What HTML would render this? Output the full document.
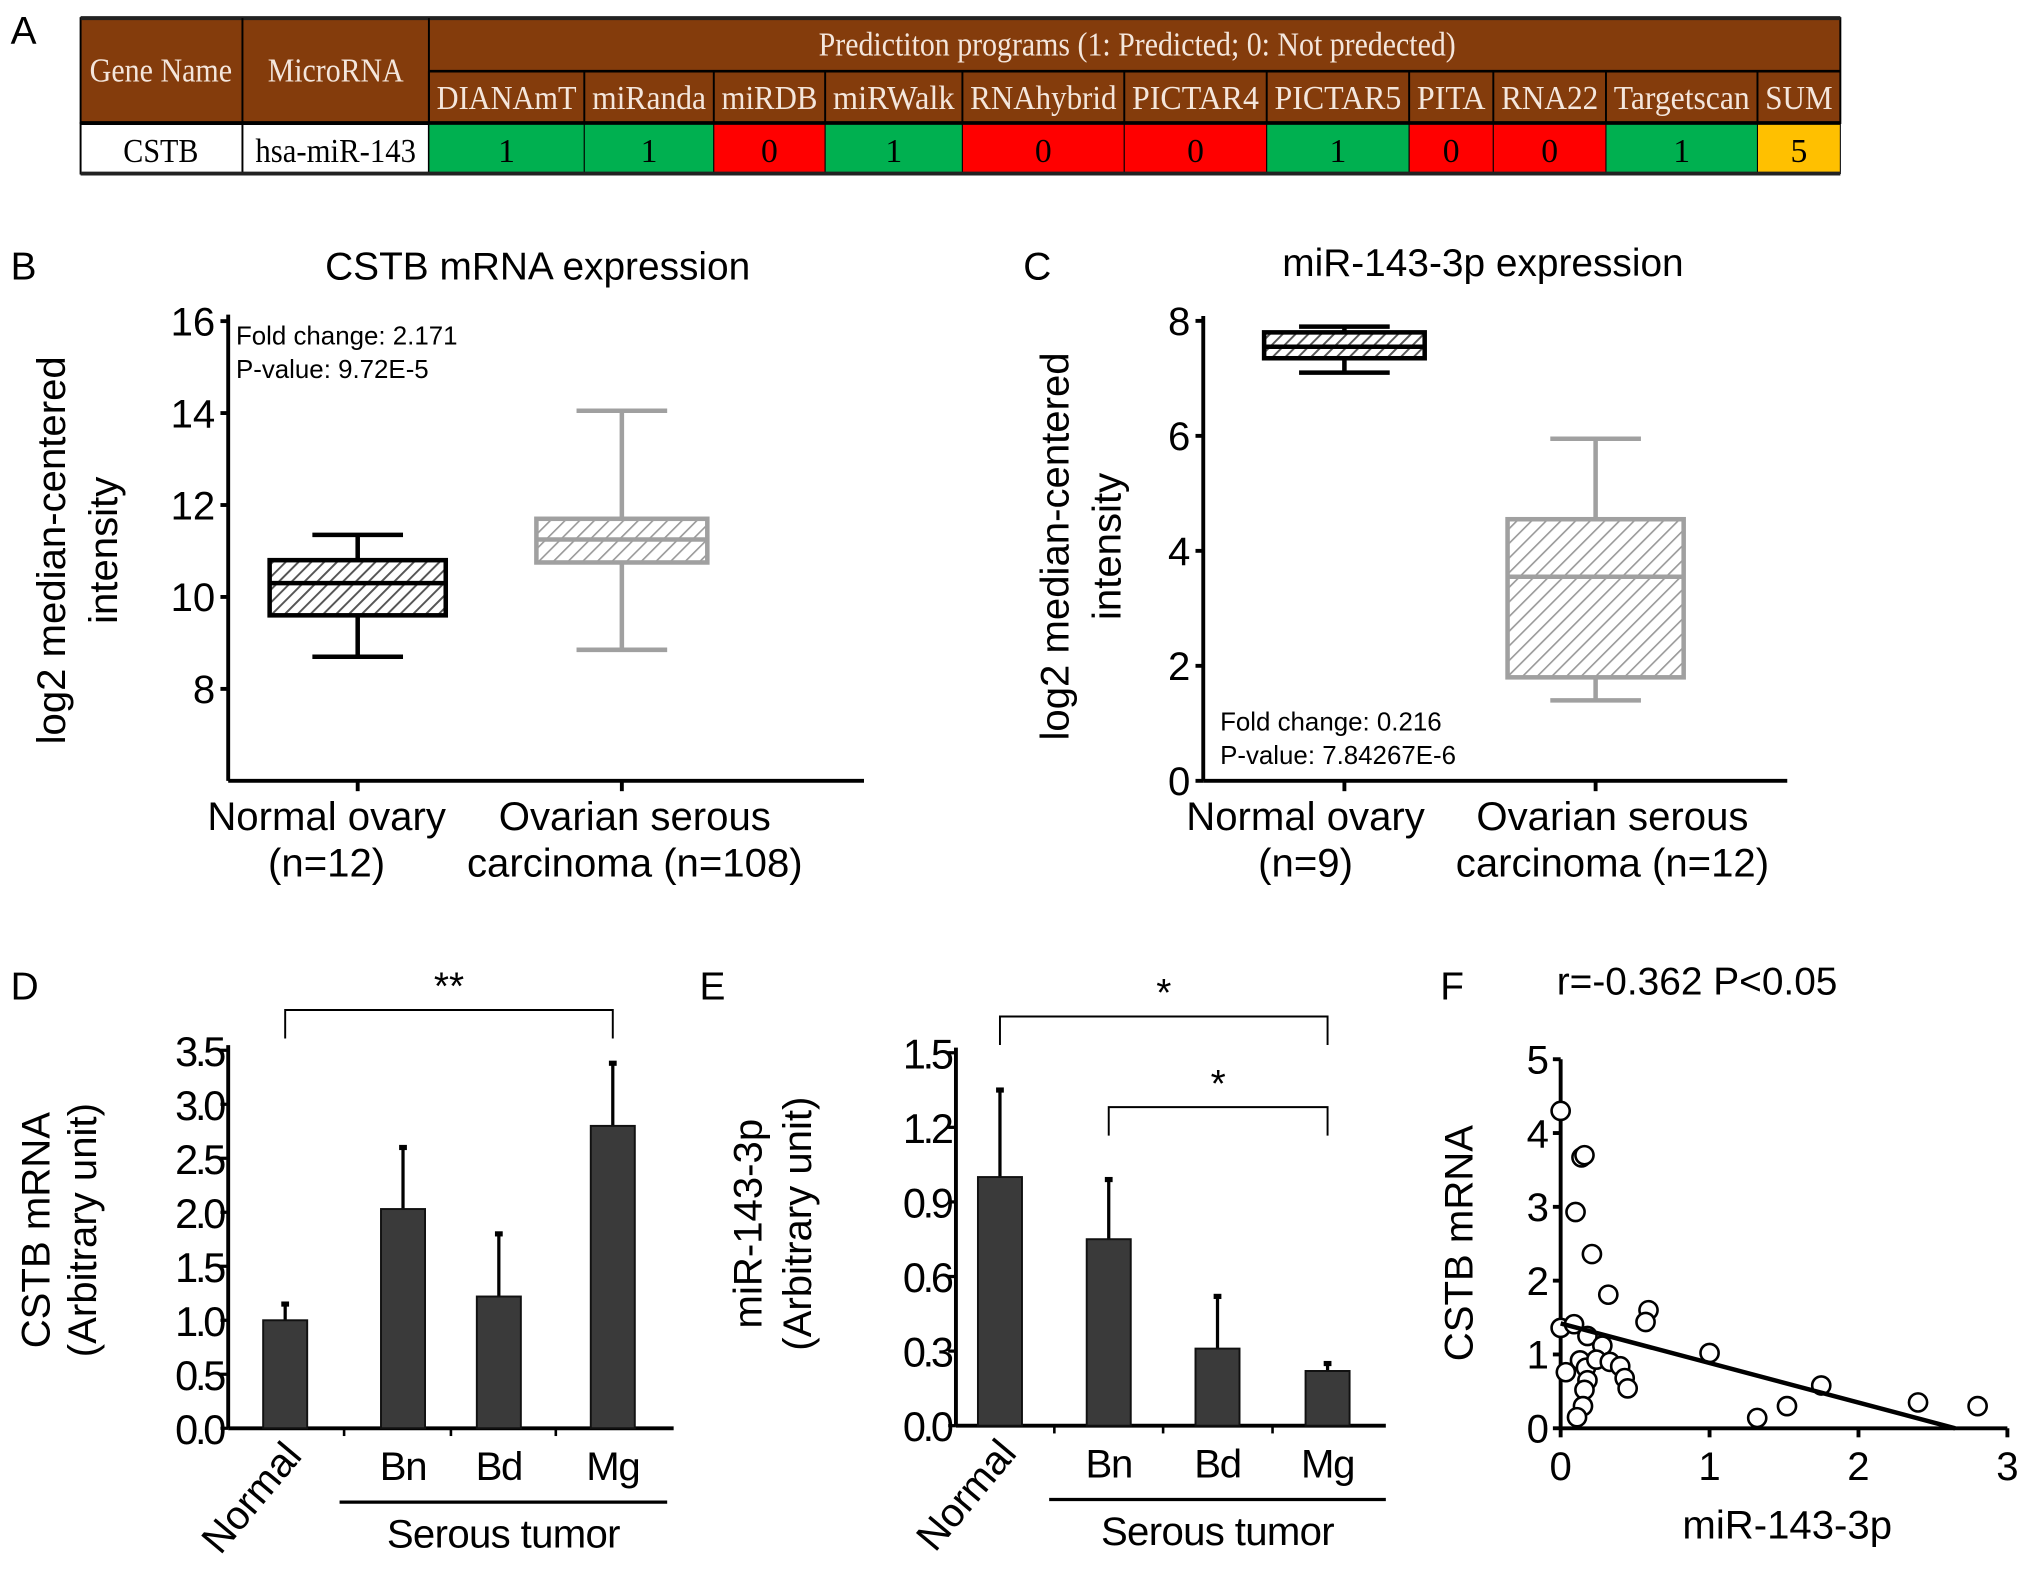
<!DOCTYPE html>
<html><head><meta charset="utf-8"><style>
html,body{margin:0;padding:0;background:#fff;}
svg{display:block;font-family:"Liberation Sans",Arial,sans-serif;}
.serif{font-family:"Liberation Serif","Times New Roman",serif;}
</style></head><body>
<svg id="fig" width="2031" height="1572" viewBox="0 0 1568 1214" xmlns="http://www.w3.org/2000/svg">
<defs>
<pattern id="hatchK" patternUnits="userSpaceOnUse" width="7" height="7" patternTransform="rotate(45)"><rect width="7" height="7" fill="#fff"/><line x1="0" y1="0" x2="0" y2="7" stroke="#555" stroke-width="3"/></pattern>
<pattern id="hatchG" patternUnits="userSpaceOnUse" width="8" height="8" patternTransform="rotate(45)"><rect width="8" height="8" fill="#fff"/><line x1="0" y1="0" x2="0" y2="8" stroke="#999" stroke-width="2.5"/></pattern>
</defs>
<g id="A"></g>
<g id="B"></g>
<g id="C"></g>
<g id="D"></g>
<g id="E"></g>
<g id="F"></g>
</svg>
<script>
// ---- data ----
const tablePrograms = ["DIANAmT","miRanda","miRDB","miRWalk","RNAhybrid","PICTAR4","PICTAR5","PITA","RNA22","Targetscan","SUM"];
const tableValues = [1,1,0,1,0,0,1,0,0,1,5];
const bGroups = ["Normal ovary","Ovarian serous"];
const bWhiskerLow = [8.7, 8.85];
const bQ1 = [9.6, 10.75];
const bMedian = [10.3, 11.25];
const bQ3 = [10.8, 11.7];
const bWhiskerHigh = [11.35, 14.05];
const bTicks = [8,10,12,14,16];
const cWhiskerLow = [7.1, 1.4];
const cQ1 = [7.35, 1.8];
const cMedian = [7.55, 3.55];
const cQ3 = [7.8, 4.55];
const cWhiskerHigh = [7.9, 5.95];
const cTicks = [0,2,4,6,8];
const dCategories = ["Normal","Bn","Bd","Mg"];
const dValues = [1.0, 2.03, 1.22, 2.8];
const dErrors = [0.15, 0.57, 0.58, 0.58];
const dTicks = ["0.0","0.5","1.0","1.5","2.0","2.5","3.0","3.5"];
const eValues = [1.0, 0.75, 0.31, 0.22];
const eErrors = [0.35, 0.24, 0.21, 0.03];
const eTicks = ["0.0","0.3","0.6","0.9","1.2","1.5"];
const fX = [0,0.14,0.16,0.1,0.21,0.32,0.59,0.57,0,0.09,0.18,0.28,0.035,0.13,0.17,0.24,0.33,0.4,0.43,0.45,0.18,0.16,0.15,0.11,1.0,1.75,1.32,1.52,2.4,2.8];
const fY = [4.3,3.67,3.7,2.93,2.36,1.81,1.6,1.44,1.36,1.41,1.25,1.12,0.76,0.92,0.82,0.93,0.9,0.84,0.68,0.54,0.65,0.52,0.3,0.15,1.02,0.58,0.14,0.3,0.35,0.3];
const fFit = [1.42, -0.536];
const fTicksX = [0,1,2,3];
const fTicksY = [0,1,2,3,4,5];

const NS="http://www.w3.org/2000/svg";
function el(parent,tag,attrs,text){const e=document.createElementNS(NS,tag);for(const k in attrs)e.setAttribute(k,attrs[k]);if(text!==undefined)e.textContent=text;parent.appendChild(e);return e;}

// ---- Panel A ----
const A=document.getElementById('A');
let t=el(A,'text',{x:8,y:34,'font-size':30},'A');


const brown='#843c0c';
const colX=[331,451,551,637,743,868,978,1088,1153,1240,1357,1421];
el(A,'rect',{x:62,y:14,width:1359,height:81,fill:brown,stroke:'#000','stroke-width':1.5});
el(A,'line',{x1:62,y1:14,x2:1421,y2:14,stroke:'#222','stroke-width':3});
el(A,'line',{x1:331,y1:55,x2:1421,y2:55,stroke:'#000','stroke-width':2});
el(A,'rect',{x:62,y:95,width:269,height:39,fill:'#fff',stroke:'#000','stroke-width':1.5});
el(A,'line',{x1:187,y1:14,x2:187,y2:134,stroke:'#000','stroke-width':1.5});
el(A,'line',{x1:331,y1:14,x2:331,y2:134,stroke:'#000','stroke-width':1.5});
el(A,'line',{x1:62,y1:95,x2:1421,y2:95,stroke:'#000','stroke-width':3});
let h=el(A,'text',{x:124,y:63,'font-size':26,fill:'#f4e6dc','text-anchor':'middle',class:'serif',textLength:110,lengthAdjust:'spacingAndGlyphs'},'Gene Name');

h=el(A,'text',{x:259,y:63,'font-size':26,fill:'#f4e6dc','text-anchor':'middle',class:'serif',textLength:105,lengthAdjust:'spacingAndGlyphs'},'MicroRNA');

h=el(A,'text',{x:878,y:43,'font-size':26,fill:'#f4e6dc','text-anchor':'middle',class:'serif',textLength:492,lengthAdjust:'spacingAndGlyphs'},'Predictiton programs (1: Predicted; 0: Not predected)');

h=el(A,'text',{x:124,y:125,'font-size':26,'text-anchor':'middle',class:'serif',textLength:58,lengthAdjust:'spacingAndGlyphs'},'CSTB');

h=el(A,'text',{x:259,y:125,'font-size':26,'text-anchor':'middle',class:'serif',textLength:124,lengthAdjust:'spacingAndGlyphs'},'hsa-miR-143');

tablePrograms.forEach((p,i)=>{
  const x0=colX[i],x1=colX[i+1],cx=(x0+x1)/2;
  const v=tableValues[i];
  const fill=i===tablePrograms.length-1?'#ffc000':(v?'#00b050':'#ff0000');
  el(A,'line',{x1:x0,y1:55,x2:x0,y2:95,stroke:'#000','stroke-width':1.5});
  const ht=el(A,'text',{x:cx,y:84,'font-size':26,fill:'#f4e6dc','text-anchor':'middle',class:'serif',textLength:x1-x0-12,lengthAdjust:'spacingAndGlyphs'},p);
  
  
  const c=el(A,'rect',{x:x0,y:96,width:x1-x0,height:38,fill:fill,stroke:'#000','stroke-width':0.8});
  
  
  el(A,'text',{x:cx,y:125,'font-size':26,'text-anchor':'middle',class:'serif'},String(v));
});
el(A,'line',{x1:62,y1:134,x2:1421,y2:134,stroke:'#222','stroke-width':3});

// ---- Box plot helper ----
function boxPanel(g,opt){
  const ys=v=>opt.y0-(v-opt.vmin)*opt.k;
  el(g,'line',{x1:opt.ax,y1:opt.yTop,x2:opt.ax,y2:opt.y0,stroke:'#000','stroke-width':3});
  el(g,'line',{x1:opt.ax,y1:opt.y0,x2:opt.xEnd,y2:opt.y0,stroke:'#000','stroke-width':3});
  opt.ticks.forEach(v=>{
    el(g,'line',{x1:opt.ax-6,y1:ys(v),x2:opt.ax,y2:ys(v),stroke:'#000','stroke-width':3});
    const tt=el(g,'text',{x:opt.ax-10,y:ys(v)+11,'font-size':31,'text-anchor':'end'},String(v));
    
    
  });
  opt.cx.forEach((cx,i)=>{
    el(g,'line',{x1:cx,y1:opt.y0,x2:cx,y2:opt.y0+8,stroke:'#000','stroke-width':3});
    const col=i===0?'#000':'#a0a0a0', fillp=i===0?'url(#hatchK)':'url(#hatchG)';
    const hw=opt.hw[i];
    el(g,'line',{x1:cx,y1:ys(opt.wl[i]),x2:cx,y2:ys(opt.wh[i]),stroke:col,'stroke-width':3.5});
    el(g,'line',{x1:cx-35,y1:ys(opt.wl[i]),x2:cx+35,y2:ys(opt.wl[i]),stroke:col,'stroke-width':3.5});
    el(g,'line',{x1:cx-35,y1:ys(opt.wh[i]),x2:cx+35,y2:ys(opt.wh[i]),stroke:col,'stroke-width':3.5});
    const b=el(g,'rect',{x:cx-hw,y:ys(opt.q3[i]),width:2*hw,height:ys(opt.q1[i])-ys(opt.q3[i]),fill:fillp,stroke:col,'stroke-width':3.5});
    
    
    el(g,'line',{x1:cx-hw,y1:ys(opt.md[i]),x2:cx+hw,y2:ys(opt.md[i]),stroke:col,'stroke-width':3.5});
  });
}
const B=document.getElementById('B');
t=el(B,'text',{x:8,y:216,'font-size':30},'B');

t=el(B,'text',{x:415,y:216,'font-size':30,'text-anchor':'middle'},'CSTB mRNA expression');

boxPanel(B,{ax:176,yTop:243,y0:603,xEnd:667,vmin:6,k:35.5,ticks:bTicks,cx:[276,480],hw:[68,66],wl:bWhiskerLow,q1:bQ1,md:bMedian,q3:bQ3,wh:bWhiskerHigh});
el(B,'text',{x:182,y:266,'font-size':20},'Fold change: 2.171');
el(B,'text',{x:182,y:292,'font-size':20},'P-value: 9.72E-5');
t=el(B,'text',{x:0,y:0,'font-size':31,'text-anchor':'middle',transform:'translate(50,425) rotate(-90)'},'log2 median-centered');

el(B,'text',{x:0,y:0,'font-size':31,'text-anchor':'middle',transform:'translate(90,425) rotate(-90)'},'intensity');
el(B,'text',{x:252,y:641,'font-size':31,'text-anchor':'middle'},'Normal ovary');
el(B,'text',{x:252,y:677,'font-size':31,'text-anchor':'middle'},'(n=12)');
el(B,'text',{x:490,y:641,'font-size':31,'text-anchor':'middle'},'Ovarian serous');
el(B,'text',{x:490,y:677,'font-size':31,'text-anchor':'middle'},'carcinoma (n=108)');

const C=document.getElementById('C');
t=el(C,'text',{x:790,y:216,'font-size':30},'C');

t=el(C,'text',{x:1145,y:213,'font-size':30,'text-anchor':'middle'},'miR-143-3p expression');

boxPanel(C,{ax:929,yTop:244,y0:603,xEnd:1380,vmin:0,k:44.4,ticks:cTicks,cx:[1038,1232],hw:[62,68],wl:cWhiskerLow,q1:cQ1,md:cMedian,q3:cQ3,wh:cWhiskerHigh});
el(C,'text',{x:942,y:564,'font-size':20},'Fold change: 0.216');
el(C,'text',{x:942,y:590,'font-size':20},'P-value: 7.84267E-6');
t=el(C,'text',{x:0,y:0,'font-size':31,'text-anchor':'middle',transform:'translate(825,422) rotate(-90)'},'log2 median-centered');

el(C,'text',{x:0,y:0,'font-size':31,'text-anchor':'middle',transform:'translate(865,422) rotate(-90)'},'intensity');
el(C,'text',{x:1008,y:641,'font-size':31,'text-anchor':'middle'},'Normal ovary');
el(C,'text',{x:1008,y:677,'font-size':31,'text-anchor':'middle'},'(n=9)');
el(C,'text',{x:1245,y:641,'font-size':31,'text-anchor':'middle'},'Ovarian serous');
el(C,'text',{x:1245,y:677,'font-size':31,'text-anchor':'middle'},'carcinoma (n=12)');

// ---- Bar helper ----
function barPanel(g,opt){
  const ys=v=>opt.y0-v*opt.k;
  el(g,'line',{x1:opt.ax,y1:ys(opt.vmax)-4,x2:opt.ax,y2:opt.y0,stroke:'#000','stroke-width':3});
  el(g,'line',{x1:opt.ax,y1:opt.y0,x2:opt.xEnd,y2:opt.y0,stroke:'#000','stroke-width':3});
  opt.ticks.forEach(s=>{
    const v=parseFloat(s);
    el(g,'line',{x1:opt.ax-6,y1:ys(v),x2:opt.ax,y2:ys(v),stroke:'#000','stroke-width':2.5});
    const tt=el(g,'text',{x:opt.ax-4,y:ys(v)+12,'font-size':32,'text-anchor':'end','letter-spacing':-2.5},s);
    
    
  });
  opt.cx.forEach((cx,i)=>{
    const v=opt.vals[i],e=opt.errs[i];
    el(g,'line',{x1:cx,y1:ys(v),x2:cx,y2:ys(v+e),stroke:'#000','stroke-width':2.5});
    el(g,'rect',{x:cx-3,y:ys(v+e)-2,width:6,height:4,fill:'#000'});
    const b=el(g,'rect',{x:cx-17,y:ys(v),width:34,height:opt.y0-ys(v),fill:'#3a3a3a',stroke:'#111','stroke-width':1.5});
    
    
    if(i<opt.cx.length-1) el(g,'line',{x1:(cx+opt.cx[i+1])/2,y1:opt.y0,x2:(cx+opt.cx[i+1])/2,y2:opt.y0+6,stroke:'#000','stroke-width':2});
    if(i===0){
      el(g,'text',{x:0,y:0,'font-size':31,'text-anchor':'end',transform:`translate(${cx+14},${opt.y0+22}) rotate(-50)`},dCategories[i]);
    } else {
      el(g,'text',{x:cx,y:opt.y0+40,'font-size':31,'text-anchor':'middle','letter-spacing':-1},dCategories[i]);
    }
  });
  el(g,'line',{x1:opt.ul[0],y1:opt.y0+57,x2:opt.ul[1],y2:opt.y0+57,stroke:'#000','stroke-width':2.5});
  el(g,'text',{x:(opt.ul[0]+opt.ul[1])/2,y:opt.y0+92,'font-size':31,'text-anchor':'middle','letter-spacing':-0.5},'Serous tumor');
  opt.brackets.forEach(br=>{
    const x1=opt.cx[br[0]],x2=opt.cx[br[1]];
    const bk=el(g,'path',{d:`M${x1},${br[2]+22} V${br[2]} H${x2} V${br[2]+22}`,fill:'none',stroke:'#000','stroke-width':1.5});
    
    
    el(g,'text',{x:(x1+x2)/2+br[4],y:br[2]-8,'font-size':30,'text-anchor':'middle'},br[3]);
  });
}
const D=document.getElementById('D');
t=el(D,'text',{x:8,y:772,'font-size':30},'D');

barPanel(D,{ax:176,y0:1103,k:83.4,vmax:3.5,xEnd:520,ticks:dTicks,cx:[220,311,385,473],vals:dValues,errs:dErrors,ul:[262,515],brackets:[[0,3,780,'**',0]]});
t=el(D,'text',{x:0,y:0,'font-size':31,'text-anchor':'middle',transform:'translate(38,950) rotate(-90)'},'CSTB mRNA');

el(D,'text',{x:0,y:0,'font-size':31,'text-anchor':'middle',transform:'translate(74,950) rotate(-90)'},'(Arbitrary unit)');
const E=document.getElementById('E');
t=el(E,'text',{x:540,y:772,'font-size':30},'E');

barPanel(E,{ax:738,y0:1101,k:192,vmax:1.5,xEnd:1070,ticks:eTicks,cx:[772,856,940,1025],vals:eValues,errs:eErrors,ul:[810,1070],brackets:[[0,3,785,'*',0],[1,3,855,'*',0]]});
t=el(E,'text',{x:0,y:0,'font-size':31,'text-anchor':'middle',transform:'translate(588,945) rotate(-90)'},'miR-143-3p');

el(E,'text',{x:0,y:0,'font-size':31,'text-anchor':'middle',transform:'translate(626,945) rotate(-90)'},'(Arbitrary unit)');

// ---- Panel F ----
const F=document.getElementById('F');
t=el(F,'text',{x:1112,y:772,'font-size':30},'F');

t=el(F,'text',{x:1202,y:768,'font-size':30,'xml:space':'preserve'},'r=-0.362   P<0.05');

const fx=v=>1205+v*115, fy=v=>1103-v*57;
el(F,'line',{x1:1205,y1:fy(5),x2:1205,y2:1103,stroke:'#000','stroke-width':3});
el(F,'line',{x1:1205,y1:1103,x2:fx(3),y2:1103,stroke:'#000','stroke-width':3});
fTicksY.forEach(v=>{
  el(F,'line',{x1:1199,y1:fy(v),x2:1205,y2:fy(v),stroke:'#000','stroke-width':3});
  const tt=el(F,'text',{x:1196,y:fy(v)+11,'font-size':31,'text-anchor':'end'},String(v));
  
});
fTicksX.forEach(v=>{
  el(F,'line',{x1:fx(v),y1:1103,x2:fx(v),y2:1110,stroke:'#000','stroke-width':3});
  const tt=el(F,'text',{x:fx(v),y:1143,'font-size':31,'text-anchor':'middle'},String(v));
  
});
fX.forEach((x,i)=>{
  const c=el(F,'circle',{cx:fx(x),cy:fy(fY[i]),r:7,fill:'#fff',stroke:'#000','stroke-width':2});
  
  
});
const xEndFit=-fFit[0]/fFit[1];
const fl=el(F,'line',{x1:fx(0),y1:fy(fFit[0]),x2:fx(xEndFit),y2:fy(0),stroke:'#000','stroke-width':3.5});


t=el(F,'text',{x:0,y:0,'font-size':31,'text-anchor':'middle',transform:'translate(1137,960) rotate(-90)'},'CSTB mRNA');

t=el(F,'text',{x:1380,y:1188,'font-size':31,'text-anchor':'middle'},'miR-143-3p');

</script>
</body></html>
